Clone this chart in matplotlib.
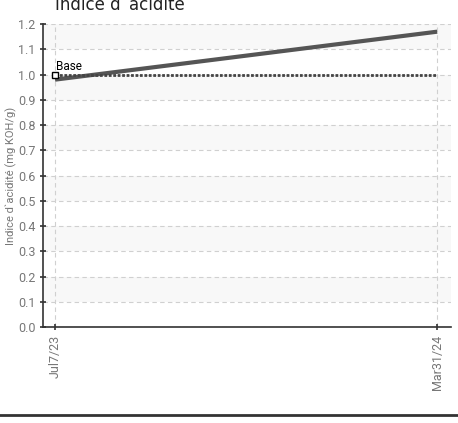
import matplotlib
matplotlib.use('Agg')
import matplotlib.pyplot as plt
import matplotlib.dates as mdates
from datetime import datetime, timedelta

# Data
dates = [datetime(2023, 7, 7), datetime(2024, 3, 31)]
tick_labels = ['Jul7/23', 'Mar31/24']
values = [0.98, 1.17]
base_value = 1.0

plt.rcParams['font.family'] = ['Roboto', 'DejaVu Sans']

fig = plt.figure(figsize=(4.58, 4.23), dpi=100)
ax = fig.add_axes([0.094, 0.227, 0.891, 0.716])

# alternating bands
for lo in [0.1, 0.3, 0.5, 0.7, 0.9, 1.1]:
    ax.axhspan(lo, lo + 0.1, color='#f8f8f8', zorder=0, lw=0)

ax.plot(dates, values, color='#555555', linewidth=3, solid_capstyle='butt', zorder=3)
ax.plot(dates, [base_value, base_value], color='#444444', linewidth=2,
        linestyle=(0, (1, 0.6)), zorder=3)
ax.plot(dates[0], base_value, marker='s', markersize=5, markerfacecolor='white',
        markeredgecolor='black', markeredgewidth=1, zorder=4)
ax.annotate('Base', (mdates.date2num(dates[0]), base_value), textcoords='offset points',
            xytext=(1, 3), fontsize=8.5, color='black')

ax.set_xlim(dates[0] - timedelta(days=8.4), dates[1] + timedelta(days=9.8))
ax.set_ylim(0, 1.2)
ax.set_yticks([i / 10 for i in range(13)])
ax.set_yticklabels([f'{i / 10:.1f}' for i in range(13)])
ax.set_xticks(dates)
ax.set_xticklabels(tick_labels, rotation=90)

ax.grid(True, linestyle=(0, (4, 3)), color='#d0d0d0', linewidth=0.8)
ax.set_axisbelow(True)

for s in ['top', 'right']:
    ax.spines[s].set_visible(False)
ax.spines['left'].set_color('#333333')
ax.spines['bottom'].set_color('#333333')
ax.spines['left'].set_linewidth(1.2)
ax.spines['bottom'].set_linewidth(1.2)
ax.tick_params(axis='both', colors='#333333', labelcolor='#777777', labelsize=9,
               length=4, width=1.2, direction='inout')

ax.set_ylabel("Indice d`acidité (mg KOH/g)", fontsize=8, color='#777777', labelpad=1)
fig.text(0.262, 1 - 10 / 423, "Indice d`acidité", fontsize=12, ha='center', va='baseline',
         color='#222222', family='DejaVu Sans')

# bottom separator line
fig.add_artist(plt.Line2D([0, 1], [1 - 415 / 423, 1 - 415 / 423], color='#333333', linewidth=2))

plt.savefig('out.png', dpi=100)
plt.close()
